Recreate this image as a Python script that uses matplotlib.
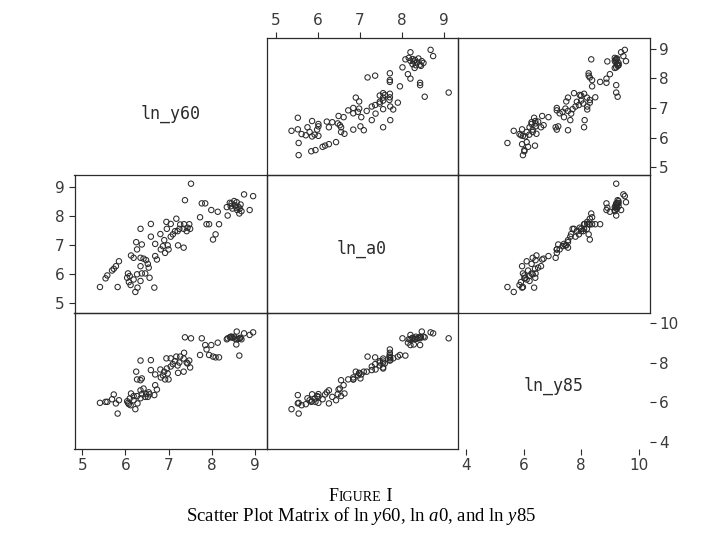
import numpy as np
import matplotlib.pyplot as plt

plt.rcParams['mathtext.fontset'] = 'custom'
plt.rcParams['mathtext.rm'] = 'Liberation Serif'
plt.rcParams['mathtext.it'] = 'Liberation Serif:italic'

# variables of the matrix (row/column order)
names = ["ln_y60", "ln_a0", "ln_y85"]

# values
ln_y60 = [5.41, 5.54, 5.58, 5.69, 5.73, 5.78, 5.85, 5.82, 6.06, 6.04,
          6.10, 6.08, 6.12, 6.23, 6.28, 6.19, 6.27, 6.35, 6.38, 6.46,
          6.56, 6.67, 6.13, 6.19, 6.27, 6.25, 6.35, 6.38, 6.35, 6.42,
          6.48, 6.52, 6.35, 6.54, 6.59, 6.59, 6.69, 6.69, 6.73, 6.81,
          6.82, 6.87, 6.90, 6.95, 6.96, 6.92, 6.98, 7.00, 7.05, 7.05,
          7.10, 7.15, 7.18, 7.22, 7.21, 7.25, 7.27, 7.35, 7.36, 7.42,
          7.44, 7.48, 7.50, 7.52, 7.38, 7.35, 7.73, 7.77, 7.85, 7.88,
          7.94, 7.99, 8.03, 8.09, 8.14, 8.17, 8.35, 8.37, 8.42, 8.46,
          8.52, 8.54, 8.57, 8.58, 8.59, 8.62, 8.64, 8.67, 8.69, 8.75,
          8.88, 8.96, 8.48, 8.44, 8.65]
ln_a0 = [5.54, 5.84, 5.94, 6.11, 6.17, 6.26, 6.43, 5.54, 6.01, 5.86,
         5.92, 5.71, 5.61, 5.37, 5.52, 5.80, 5.98, 5.75, 6.01, 6.01,
         5.86, 5.52, 6.63, 6.55, 6.84, 7.09, 7.55, 7.01, 6.55, 6.52,
         6.47, 6.34, 6.26, 6.21, 7.72, 7.28, 7.03, 6.61, 6.49, 7.37,
         6.84, 6.95, 7.16, 7.79, 7.55, 6.72, 6.98, 6.84, 7.28, 7.72,
         7.36, 7.47, 7.90, 6.98, 7.47, 7.55, 7.70, 6.90, 7.71, 7.47,
         7.59, 7.71, 7.55, 9.11, 8.54, 7.55, 7.95, 8.43, 8.43, 7.71,
         7.71, 8.20, 7.18, 7.36, 8.14, 7.71, 8.30, 8.01, 8.45, 8.43,
         8.51, 8.36, 8.28, 8.47, 8.20, 8.31, 8.08, 8.39, 8.16, 8.74,
         8.20, 8.68, 8.25, 8.33, 8.25]
ln_y85 = [5.97, 6.02, 6.02, 6.15, 6.39, 5.94, 6.10, 5.43, 5.97, 6.05,
          6.19, 5.90, 5.85, 5.65, 5.94, 6.10, 6.31, 6.20, 6.41, 6.27,
          6.40, 6.36, 6.44, 6.31, 7.15, 7.54, 8.10, 7.20, 7.11, 6.69,
          6.41, 6.27, 6.60, 6.50, 8.12, 7.62, 7.40, 6.86, 6.64, 7.65,
          7.25, 7.35, 7.54, 8.21, 7.70, 7.15, 7.45, 7.15, 7.80, 8.21,
          7.92, 8.07, 8.30, 7.48, 7.85, 8.00, 8.30, 7.54, 8.49, 8.00,
          7.95, 8.10, 7.75, 9.22, 9.27, 8.20, 8.38, 9.22, 8.88, 8.66,
          8.38, 8.88, 8.30, 8.26, 9.00, 8.26, 9.17, 9.22, 9.27, 9.30,
          9.30, 9.20, 8.91, 9.56, 9.17, 9.20, 8.35, 9.25, 9.17, 9.47,
          9.39, 9.52, 9.25, 9.30, 9.22]

ticks_y60 = [5, 6, 7, 8, 9]
ticks_a0 = [5, 6, 7, 8, 9]
ticks_y85 = [4, 6, 8, 10]

data = [np.array(ln_y60), np.array(ln_a0), np.array(ln_y85)]

W, H = 715, 553
col_x = [74.5, 266.5, 457.5, 649.5]
row_y = [38, 175, 312.5, 448.5]
xlims = [(4.82, 9.27), (4.775, 9.32), (3.69, 10.38)]
ylims = [(4.74, 9.36), (4.66, 9.41), (3.67, 10.52)]

ink = '#2b2b2b'
fig = plt.figure(figsize=(W / 100, H / 100), dpi=100)

axes = {}
for r in range(3):
    for c in range(3):
        ax = fig.add_axes([col_x[c] / W, 1 - row_y[r + 1] / H,
                           (col_x[c + 1] - col_x[c]) / W,
                           (row_y[r + 1] - row_y[r]) / H])
        ax.set_xlim(*xlims[c])
        ax.set_ylim(*ylims[r])
        ax.set_xticks([])
        ax.set_yticks([])
        ax.patch.set_alpha(0)
        for s in ax.spines.values():
            s.set_color(ink)
            s.set_linewidth(0.9)
        ax.tick_params(direction='out', length=4, width=0.8, color=ink,
                       labelsize=11, labelcolor='#3a3a3a', pad=3)
        if r == c:
            ax.text(0.5, 0.445 if r == 0 else 0.46, names[r], transform=ax.transAxes,
                    ha='center', va='center', family='DejaVu Sans Mono',
                    fontsize=12, color=ink)
            if r != 1:
                for s in ax.spines.values():
                    s.set_visible(False)
        else:
            ax.scatter(data[c], data[r], s=15, facecolors='none',
                       edgecolors=ink, linewidths=0.75)
        axes[(r, c)] = ax

# axis scales as printed around the matrix
ax = axes[(0, 1)]
ax.xaxis.tick_top()
ax.set_xticks(ticks_a0)

ax = axes[(0, 2)]
ax.yaxis.tick_right()
ax.set_yticks(ticks_y60)

ax = axes[(1, 0)]
ax.set_yticks(ticks_a0)

ax = axes[(2, 0)]
ax.set_xticks(ticks_y60)

ax = axes[(2, 2)]
ax.set_xticks(ticks_y85)
ax.yaxis.tick_right()
ax.set_yticks(ticks_y85)

# caption, "FIGURE I" set in small caps
cx = 361 / W
base1 = 1 - 501 / H
t1 = fig.text(329 / W, base1, "F", fontsize=13, family='Liberation Serif',
              ha='left', va='baseline')
t2 = fig.text(0, 0, "IGURE", fontsize=10, family='Liberation Serif')
t3 = fig.text(0, 0, " I", fontsize=13, family='Liberation Serif')
fig.canvas.draw()
rend = fig.canvas.get_renderer()
b1 = t1.get_window_extent(rend)
t2.set_position((b1.x1 / W, base1))
t2.set_va('baseline')
b2 = t2.get_window_extent(rend)
t3.set_position((b2.x1 / W, base1))
t3.set_va('baseline')

fig.text(cx, 1 - 521 / H, r"Scatter Plot Matrix of ln $y$60, ln $a$0, and ln $y$85",
         fontsize=13.5, family='Liberation Serif', ha='center', va='baseline')

fig.savefig("out.png", dpi=100, facecolor='white')
